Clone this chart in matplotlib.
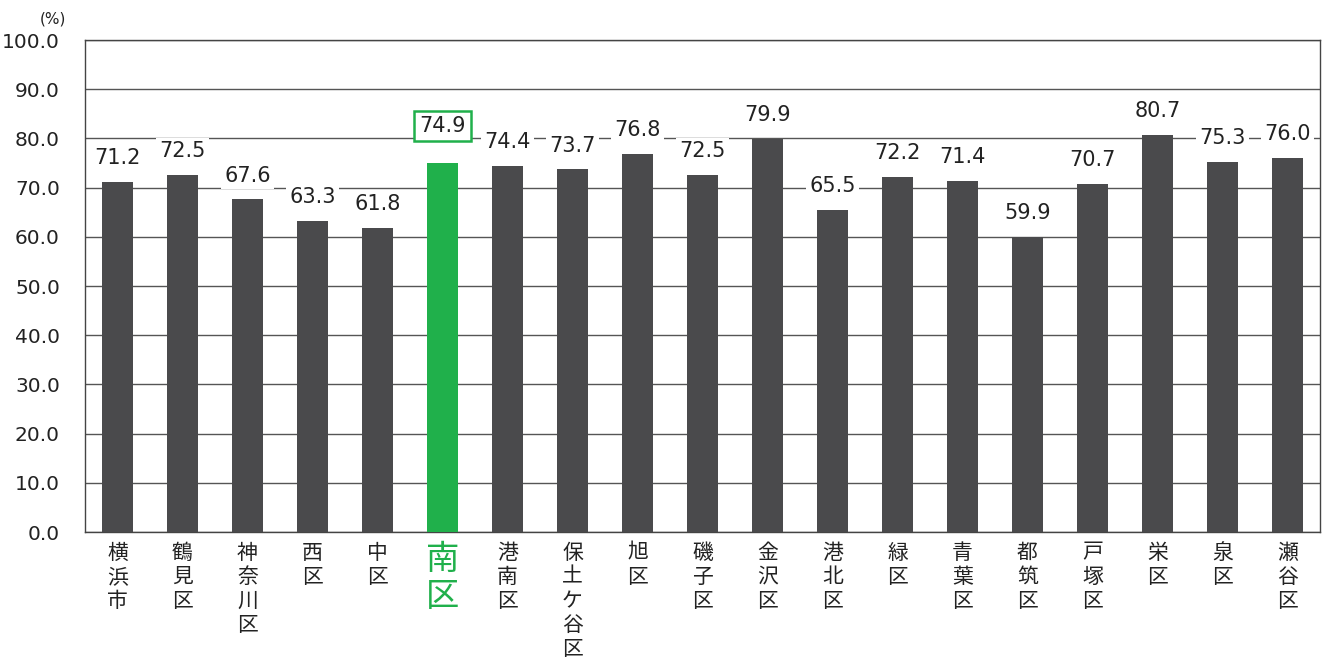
import numpy as np
import matplotlib
matplotlib.use('Agg')
from matplotlib import pyplot as plt

# data
wards = ['横浜市', '鶴見区', '神奈川区', '西区', '中区', '南区', '港南区',
         '保土ケ谷区', '旭区', '磯子区', '金沢区', '港北区', '緑区', '青葉区',
         '都筑区', '戸塚区', '栄区', '泉区', '瀬谷区']
rates = [71.2, 72.5, 67.6, 63.3, 61.8, 74.9, 74.4, 73.7, 76.8, 72.5,
         79.9, 65.5, 72.2, 71.4, 59.9, 70.7, 80.7, 75.3, 76.0]
highlight = '南区'
y_ticks = [0, 10, 20, 30, 40, 50, 60, 70, 80, 90, 100]

DARK = '#4a4a4c'
GREEN = '#20b04b'
TEXT = '#222222'

plt.rcParams['font.family'] = ['Noto Sans CJK JP', 'DejaVu Sans']

fig = plt.figure(figsize=(13.28, 6.66), dpi=100)
ax = fig.add_axes([85 / 1328, 1 - 532 / 666, 1235 / 1328, 492 / 666])

x = np.arange(len(wards))
colors = [GREEN if w == highlight else DARK for w in wards]
ax.bar(x, rates, width=0.49, color=colors, zorder=3)

ax.set_ylim(0, 100)
ax.set_xlim(-0.5, len(wards) - 0.5)
ax.set_yticks(y_ticks)
ax.set_yticklabels([f'{v:.1f}' for v in y_ticks], fontsize=14.5,
                   color=TEXT, family='DejaVu Sans')
ax.yaxis.grid(True, color='#555555', linewidth=1.0, zorder=0)
ax.tick_params(axis='y', length=0, pad=18)
ax.tick_params(axis='x', length=0, pad=7)
for s in ax.spines.values():
    s.set_color('#444444')
    s.set_linewidth(1.0)

ax.set_xticks(x)
ax.set_xticklabels(['\n'.join(w) for w in wards], va='top',
                   linespacing=1.12)
for lab, w in zip(ax.get_xticklabels(), wards):
    if w == highlight:
        lab.set_color(GREEN)
        lab.set_fontsize(24)
        lab.set_linespacing(1.1)
    else:
        lab.set_color(TEXT)
        lab.set_fontsize(15)

for xi, v, w in zip(x, rates, wards):
    if w == highlight:
        ax.annotate(f'{v:.1f}', (xi, v), xytext=(0, 20),
                    textcoords='offset points', ha='center', va='bottom',
                    fontsize=15, family='DejaVu Sans', color=TEXT,
                    zorder=5,
                    bbox=dict(boxstyle='square,pad=0.25', fc='white',
                              ec=GREEN, lw=1.8))
    else:
        ax.annotate(f'{v:.1f}', (xi, v), xytext=(0, 10),
                    textcoords='offset points', ha='center', va='bottom',
                    fontsize=15, family='DejaVu Sans', color=TEXT,
                    zorder=5,
                    bbox=dict(boxstyle='square,pad=0.15', fc='white',
                              ec='none'))

fig.text(53 / 1328, 1 - 19 / 666, '(%)', ha='center', va='center',
         fontsize=11, color=TEXT, family='DejaVu Sans')

plt.savefig('out.png', dpi=100)
